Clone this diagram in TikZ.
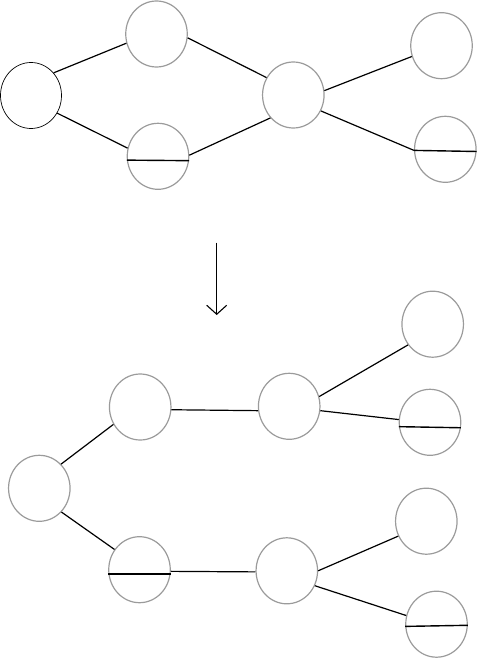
\documentclass[tikz,border=0pt]{standalone}
\usetikzlibrary{shapes.geometric,arrows.meta}
\definecolor{ringgray}{RGB}{155,155,155}
\tikzset{
  ring/.style={ellipse,draw=ringgray,line width=1.2pt,minimum width=61.5pt,minimum height=66pt,inner sep=0pt},
  blackring/.style={ellipse,draw=black,line width=0.7pt,minimum width=61pt,minimum height=66pt,inner sep=0pt},
  link/.style={draw=black,line width=1.2pt},
  bar/.style={draw=black,line width=1.4pt},
}
\begin{document}
\begin{tikzpicture}[x=1pt,y=-1pt]
\useasboundingbox (0,0) rectangle (479,660);
% top tree
\node[blackring] (A) at (31,95.5) {};
\node[ring] (B) at (156.5,34) {};
\node[ring] (C) at (158,156.3) {};
\node[ring] (D) at (293.3,95) {};
\node[ring] (E) at (441.5,45.7) {};
\node[ring] (F) at (445.3,149.3) {};
\path[link] (A.45.6) -- (B.197);
\path[link] (A.-34) -- (C.165);
\path[link] (B.-7.5) -- (D.147);
\path[link] (C.2) -- (D.225);
\path[link] (D.8) -- (E.200.6);
\path[link] (D.-30.5) -- (F.182.6);
\path[bar] (C.187) -- (C.-8.7);
\path[bar] (F.182.6) -- (F.-4.4);
% arrow
\coordinate (ar1) at (216.7,242.7);
\coordinate (ar2) at (216.7,315);
\draw[line width=1.1pt,-{Straight Barb[length=9pt,width=20pt]}] (ar1) -- (ar2);
% bottom tree
\node[ring] (G) at (39.3,488.3) {};
\node[ring] (H) at (140.2,407) {};
\node[ring] (I) at (139.5,569.7) {};
\node[ring] (J) at (289.2,406.3) {};
\node[ring] (K) at (432.7,324.2) {};
\node[ring] (L) at (430,422.3) {};
\node[ring] (M) at (286.8,570.8) {};
\node[ring] (N) at (426.3,521.2) {};
\node[ring] (O) at (436.5,624.2) {};
\path[link] (G.48.4) -- (H.213.8);
\path[link] (G.-47) -- (I.141.2);
\path[link] (H.-5.6) -- (J.188.6);
\path[link] (J.18) -- (K.220.4);
\path[link] (J.-8) -- (L.175.6);
\path[link] (I.-3.8) -- (M.182.8);
\path[link] (M.0) -- (N.208.2);
\path[link] (M.-28.7) -- (O.164.6);
\path[bar] (I.188) -- (I.-8);
\path[bar] (L.188) -- (L.-10.4);
\path[bar] (O.184.6) -- (O.-2.8);
\end{tikzpicture}
\end{document}
